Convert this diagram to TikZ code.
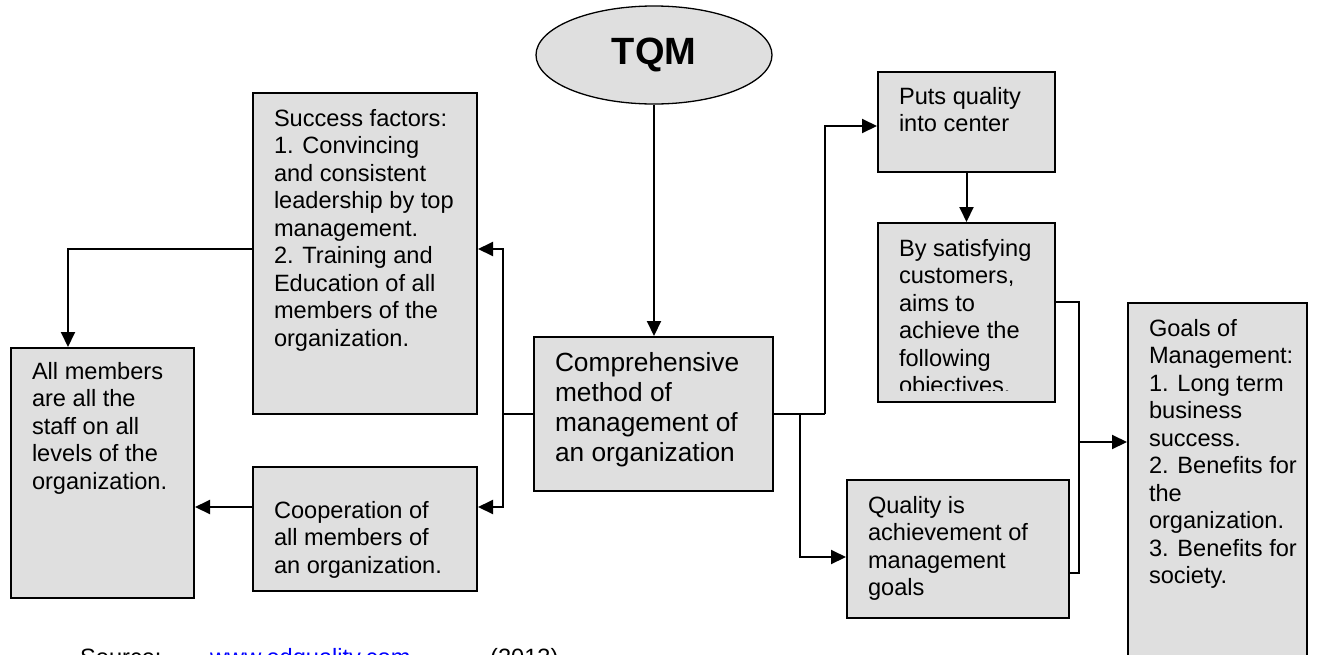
\documentclass[tikz,border=0pt]{standalone}
\usepackage{fontspec}
\setmainfont{Liberation Sans}
\usetikzlibrary{arrows.meta,shapes.geometric,calc}
\definecolor{boxgray}{HTML}{DFDFDF}
\definecolor{linkblue}{HTML}{0000FF}

% top-aligned text block of fixed height: height, width, first baseline, lines
\newcommand\boxtext[4]{\parbox[c][#1][t]{#2}{\leftskip=21pt\rightskip=0pt plus 1fil\relax\rule{0pt}{#3}#4\par}}

\tikzset{
  box/.style={draw=black, line width=2pt, fill=boxgray, anchor=north west,
    inner sep=0pt, font=\fontsize{23.6pt}{27.5pt}\selectfont},
  bigtext/.style={font=\fontsize{26.3pt}{30pt}\selectfont},
  link/.style={line width=2pt, draw=black},
  arr/.style={link, -{Triangle[length=15pt,width=14pt]}},
  plain/.style={anchor=base west, inner sep=0pt, font=\fontsize{23.6pt}{27.5pt}\selectfont}
}

\begin{document}
\begin{tikzpicture}[x=1pt, y=-1pt]
\clip (0,0) rectangle (1320,654);
\fill[white] (0,0) rectangle (1320,654);

% central ellipse
\node[ellipse, draw=black, line width=1.3pt, fill=boxgray, minimum width=236pt,
  minimum height=98pt, inner sep=0pt,
  font=\fontsize{38pt}{40pt}\selectfont\bfseries] (tqm) at (654,55) {TQM};

% boxes
\node[box] (succ) at (252,92) {\boxtext{321pt}{224pt}{33pt}{Success factors:\\1. Convincing\\and consistent\\leadership by top\\management.\\2. Training and\\Education of all\\members of the\\organization.}};
\node[box] (allm) at (10,347) {\boxtext{250pt}{183pt}{31pt}{All members\\are all the\\staff on all\\levels of the\\organization.}};
\node[box] (coop) at (252,466) {\boxtext{124pt}{224pt}{51pt}{Cooperation of\\all members of\\an organization.}};
\node[box, bigtext] (comp) at (533,336) {\boxtext{154pt}{239pt}{34pt}{Comprehensive\\method of\\management of\\an organization}};
\node[box] (puts) at (877,71) {\boxtext{100pt}{177pt}{32pt}{Puts quality\\into center}};
\node[box, minimum width=177pt, minimum height=179pt] (bysat) at (877,222) {};
% the last line runs past the box's inner margin and is cut there
\begin{scope}
  \clip (bysat.north west) rectangle ($(bysat.south east)+(0,-13)$);
  \node[box, draw=none, fill=none] (bysattext) at (bysat.north west) {\boxtext{190pt}{177pt}{33pt}{By satisfying\\customers,\\aims to\\achieve the\\following\\objectives.}};
\end{scope}
\node[box] (qual) at (846,479) {\boxtext{138pt}{222pt}{33pt}{Quality is\\achievement of\\management\\goals}};
\node[box] (goals) at (1127,302) {\boxtext{400pt}{179pt}{33pt}{Goals of\\Management:\\1. Long term\\business\\success.\\2. Benefits for\\the\\organization.\\3. Benefits for\\society.}};

% connectors
\draw[arr] (tqm.south) -- (tqm.south |- comp.north);

\coordinate (lj) at (comp.west -| 503,0);
\draw[link] (comp.west) -- (lj);
\draw[arr] (lj) |- (succ.east |- 0,249);
\draw[arr] (lj) |- (coop.east |- 0,507);
\draw[arr] (succ.west |- 0,249) -| (68,0 |- allm.north);
\draw[arr] (coop.west |- 0,507) -- (allm.east |- 0,507);

\coordinate (rj) at (comp.east -| 825,0);
\coordinate (qj) at (comp.east -| 800,0);
\draw[link] (comp.east) -- (rj);
\draw[arr] (rj) |- (puts.west |- 0,126);
\draw[arr] (qj) |- (qual.west |- 0,557);
\draw[arr] (puts.south) -- (bysat.north);

\coordinate (mt) at (1079,302);
\coordinate (mb) at (1079,573);
\coordinate (mj) at (1079,442);
\draw[link] (bysat.east |- mt) -- (mt) -- (mb) -- (qual.east |- mb);
\draw[arr] (mj) -- (goals.west |- mj);

% source line
\node[plain] (src) at (80,665) {Source:};
\node[plain, text=linkblue] (srclink) at (210,665) {www.edquality.com};
\node[plain] (srcyear) at (490,665) {(2013)};
\end{tikzpicture}
\end{document}
